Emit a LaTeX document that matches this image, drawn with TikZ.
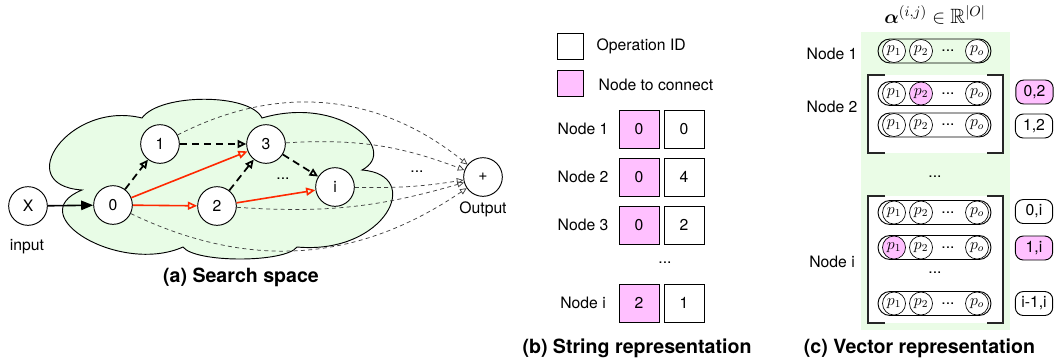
\documentclass[tikz,border=0pt]{standalone}
\usepackage[no-math]{fontspec}
\setmainfont{TeX Gyre Heros}
\usepackage{amsmath,amssymb}
\usetikzlibrary{arrows.meta}
\definecolor{cloudgreen}{RGB}{232,252,230}
\definecolor{panelgreen}{RGB}{234,252,230}
\definecolor{pinkc}{RGB}{255,192,255}
\definecolor{redc}{RGB}{255,40,0}
\newcommand{\prow}[4]{%
  \node[prect] (#1) at (934.5,#2) {};
  \node[pc,fill=#3] (#1a) at (894,#2) {$p_1$};
  \node[pc,fill=#4] (#1b) at (921,#2) {$p_2$};
  \node[inner sep=0pt] (#1c) at (948,#2) {...};
  \node[pc] (#1d) at (977,#2) {$p_o$};
}
\begin{document}
\begin{tikzpicture}[x=0.75pt,y=-0.75pt,
  font=\fontsize{11.8}{14}\selectfont,
  gnode/.style={circle,draw,fill=white,line width=0.7pt,minimum size=29pt,inner sep=0pt},
  thickdash/.style={line width=1.3pt,dash pattern=on 5.5pt off 3.5pt,-{Triangle[open,length=6.5pt,width=6pt]}},
  redarrow/.style={redc,line width=1.2pt,-{Triangle[open,length=7pt,width=6pt]}},
  thindash/.style={black!75,line width=0.55pt,dash pattern=on 3pt off 2.5pt,-{Triangle[open,length=5pt,width=4.5pt]}},
  sbox/.style={draw,line width=0.7pt,minimum width=30pt,minimum height=28.5pt,inner sep=0pt},
  legbox/.style={draw,line width=0.7pt,minimum width=19.5pt,minimum height=20pt,inner sep=0pt},
  prect/.style={draw,line width=0.7pt,rounded corners=9pt,minimum width=84.75pt,minimum height=18pt,inner sep=0pt},
  pc/.style={circle,draw,line width=0.5pt,fill=white,minimum size=17.25pt,inner sep=0pt,font=\fontsize{11.5}{12}\selectfont},
  lbox/.style={draw,line width=0.7pt,rounded corners=6pt,minimum width=28pt,minimum height=18pt,inner sep=0pt},
  bracketline/.style={black!85,line width=1.5pt},
  captext/.style={font=\bfseries\fontsize{14.7}{17}\selectfont}
]
\useasboundingbox (0,0) rectangle (1055,362);

% ---------- (a) search space ----------
\path[draw,fill=cloudgreen,line width=0.7pt]
  (82,190) .. controls (20,215) and (120,275) .. (183,247)
  .. controls (195,263) and (285,263) .. (297,247)
  .. controls (385,255) and (425,175) .. (362,170)
  .. controls (400,150) and (340,95) .. (262,118)
  .. controls (250,93) and (160,93) .. (142,118)
  .. controls (70,100) and (10,185) .. (82,190) -- cycle;

\node[gnode] (x) at (28,206) {X};
\node[gnode] (n0) at (113,205) {0};
\node[gnode] (n1) at (160,144) {1};
\node[gnode] (n2) at (217,206) {2};
\node[gnode] (n3) at (266,144) {3};
\node[gnode] (ni) at (335,187) {i};
\node[gnode] (out) at (483,177) {+};
\node (inlbl) at (27,247) {input};
\node (outlbl) at (483,209) {Output};
\node[inner sep=0pt] (da) at (283,179) {...};
\node[inner sep=0pt] (db) at (417,172) {...};

\draw[line width=1.2pt,-{Triangle[length=9pt,width=7pt]}] (x) -- (n0);
\draw[thickdash] (n0) -- (n1);
\draw[thickdash] (n1) -- (n3);
\draw[thickdash] (n2) -- (n3);
\draw[thickdash] (n3) -- (ni);
\draw[redarrow] (n0) -- (n3);
\draw[redarrow] (n0) -- (n2);
\draw[redarrow] (n2) -- (ni);
\draw[thindash] (n1) to[bend left=33] (out);
\draw[thindash] (n3) to[bend left=12] (out);
\draw[thindash] (ni) to[bend right=5] (out);
\draw[thindash] (n2) to[bend right=10] (out);
\draw[thindash] (n0) to[bend right=30] (out);

\node[captext] (capa) at (241,277) {(a) Search space};

% ---------- (b) string representation ----------
\node[legbox] (legw) at (570,46.5) {};
\node[legbox,fill=pinkc] (legp) at (570,83.5) {};
\node[anchor=west] (legwt) at (592,46) {Operation ID};
\node[anchor=west] (legpt) at (594,85) {Node to connect};
\foreach \yy/\lab/\a/\b in {129/1/0/0,177/2/0/4,225/3/0/2,303/i/2/1}{
  \node (lbl\lab) at (583,\yy) {Node \lab};
  \node[sbox,fill=pinkc] (pa\lab) at (639,\yy) {\a};
  \node[sbox] (pb\lab) at (684,\yy) {\b};
}
\node[inner sep=0pt] (bdots) at (665,263) {...};
\node[captext] (capb) at (637,348) {(b) String representation};

% ---------- (c) vector representation ----------
\fill[panelgreen] (861,32) rectangle (1010,330);
\fill[white] (868,75) rectangle (1003,153);
\fill[white] (868,196) rectangle (1003,323);
\draw[bracketline] (885,75) -- (868,75) -- (868,153) -- (885,153);
\draw[bracketline] (987,75) -- (1003,75) -- (1003,153) -- (987,153);
\draw[bracketline] (885,196) -- (868,196) -- (868,323) -- (885,323);
\draw[bracketline] (987,196) -- (1003,196) -- (1003,323) -- (987,323);

\node (title) at (935,15) {\fontsize{15.5}{17}\selectfont$\boldsymbol{\alpha}^{(i,j)}\in\mathbb{R}^{|O|}$};

\node (cn1) at (832,54) {Node 1};
\node (cn2) at (832,107) {Node 2};
\node (cni) at (832,262) {Node i};

\prow{ra}{51}{white}{white}
\prow{rb}{93.5}{white}{pinkc}
\prow{rc}{125}{white}{white}
\prow{rd}{212.5}{white}{white}
\prow{re}{247.5}{pinkc}{white}
\prow{rf}{303.5}{white}{white}

\node[inner sep=0pt] (cdots1) at (935,177) {...};
\node[inner sep=0pt] (cdots2) at (935,273) {...};

\node[lbox,fill=pinkc] (l02) at (1034.5,92) {0,2};
\node[lbox] (l12) at (1034,126) {1,2};
\node[lbox] (l0i) at (1034,211.5) {0,i};
\node[lbox,fill=pinkc] (l1i) at (1034,248) {1,i};
\node[lbox] (lli) at (1034,303.5) {i-1,i};

\node[captext] (capc) at (919.5,348) {(c) Vector representation};
\end{tikzpicture}
\end{document}
